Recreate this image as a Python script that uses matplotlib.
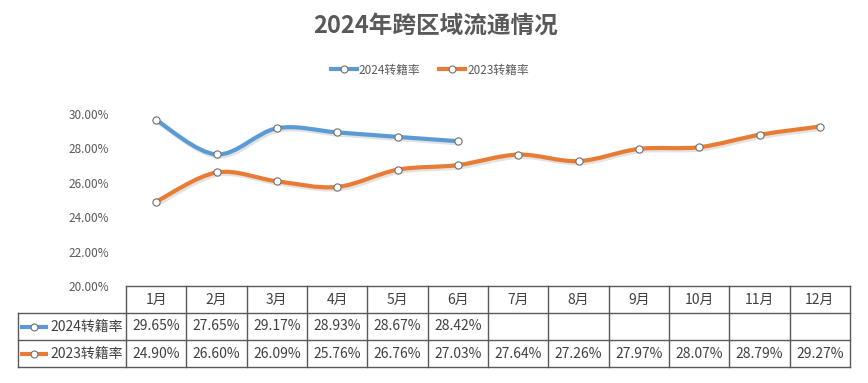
import matplotlib
matplotlib.use("Agg")
import matplotlib.pyplot as plt
from matplotlib.path import Path
from matplotlib.patches import PathPatch
from matplotlib.lines import Line2D
import matplotlib.patheffects as pe

plt.rcParams['font.family'] = ['Noto Sans CJK SC', 'DejaVu Sans']

title = "2024年跨区域流通情况"
months = ["1月", "2月", "3月", "4月", "5月", "6月", "7月", "8月", "9月", "10月", "11月", "12月"]
series_names = ["2024转籍率", "2023转籍率"]
rate_2024 = [29.65, 27.65, 29.17, 28.93, 28.67, 28.42]
rate_2023 = [24.90, 26.60, 26.09, 25.76, 26.76, 27.03, 27.64, 27.26, 27.97, 28.07, 28.79, 29.27]
y_ticks = [20, 22, 24, 26, 28, 30]
colors = ["#5B9BD5", "#E97C35"]
series = [rate_2024, rate_2023]

W, H = 868, 383
fig = plt.figure(figsize=(W / 100, H / 100), dpi=100)


def fx(px):
    return px / W


def fy(py):
    return 1 - py / H


TXT = "#595959"
GRID = "#595959"

ax = fig.add_axes([fx(126), fy(286), (850 - 126) / W, (286 - 114) / H])
ax.set_xlim(-0.5, len(months) - 0.5)
ax.set_ylim(y_ticks[0], y_ticks[-1])
for s in ax.spines.values():
    s.set_visible(False)
ax.set_xticks([])
ax.set_yticks(y_ticks)
ax.set_yticklabels([f"{v:.2f}%" for v in y_ticks], fontsize=8.5, color=TXT)
ax.tick_params(axis='y', length=0, pad=12)


def smooth_path(xs, ys):
    pts = list(zip(xs, ys))
    n = len(pts)
    verts = [pts[0]]
    codes = [Path.MOVETO]
    for i in range(n - 1):
        p0 = pts[max(i - 1, 0)]
        p1 = pts[i]
        p2 = pts[i + 1]
        p3 = pts[min(i + 2, n - 1)]
        c1 = (p1[0] + (p2[0] - p0[0]) / 6, p1[1] + (p2[1] - p0[1]) / 6)
        c2 = (p2[0] - (p3[0] - p1[0]) / 6, p2[1] - (p3[1] - p1[1]) / 6)
        verts += [c1, c2, p2]
        codes += [Path.CURVE4] * 3
    return Path(verts, codes)


for vals, col in zip(series, colors):
    xs = list(range(len(vals)))
    patch = PathPatch(smooth_path(xs, vals), fill=False, edgecolor=col, lw=3.0,
                      capstyle='round', joinstyle='round',
                      path_effects=[pe.SimpleLineShadow(offset=(1.2, -1.6), alpha=0.22, shadow_color='#808080'),
                                    pe.Normal()], zorder=2)
    ax.add_patch(patch)
    ax.plot(xs, vals, linestyle='none', marker='o', ms=5.2, mfc='white', mec='#6f6f6f', mew=0.8, zorder=3)

handles = [Line2D([0], [0], color=c, lw=3.0, marker='o', ms=5, mfc='white', mec='#6f6f6f', mew=0.8)
           for c in colors]
fig.legend(handles, series_names, loc='center', bbox_to_anchor=(fx(430), fy(70)), ncol=2,
           frameon=False, fontsize=8.5, handlelength=2.2, handletextpad=0.2, columnspacing=1.6,
           labelcolor=TXT)

fig.text(fx(436), fy(26), title, ha='center', va='center', fontsize=17, fontweight='bold', color=TXT)

# data table
unit_px = (850 - 126) / len(months)
x_left = -0.5 - (126 - 18) / unit_px
x_right = len(months) - 0.5
tax = fig.add_axes([fx(18), fy(367), (850 - 18) / W, (367 - 286) / H])
tax.set_xlim(x_left, x_right)
tax.set_ylim(3, 0)
tax.axis('off')

lk = dict(color=GRID, lw=1, clip_on=False, solid_capstyle='projecting')
tax.plot([-0.5, x_right], [0, 0], **lk)
for r in (1, 2, 3):
    tax.plot([x_left, x_right], [r, r], **lk)
for k in range(len(months) + 1):
    tax.plot([-0.5 + k, -0.5 + k], [0, 3], **lk)
tax.plot([x_left, x_left], [1, 3], **lk)

TBL = "#404040"
for i, m in enumerate(months):
    tax.text(i, 0.5, m, ha='center', va='center', fontsize=10, color=TBL)
for r, vals in enumerate(series):
    for i, v in enumerate(vals):
        tax.text(i, 1.5 + r, f"{v:.2f}%", ha='center', va='center', fontsize=10, color=TBL)

for r, (name, col) in enumerate(zip(series_names, colors)):
    yrow = 1.5 + r
    x0 = x_left + 2 / unit_px
    x1 = x_left + 30 / unit_px
    tax.plot([x0, x1], [yrow, yrow], color=col, lw=3.0, solid_capstyle='butt', clip_on=False)
    tax.plot([(x0 + x1) / 2], [yrow], marker='o', ms=5, mfc='white', mec='#6f6f6f', mew=0.8,
             clip_on=False)
    tax.text(x_left + 32 / unit_px, yrow, name, ha='left', va='center', fontsize=10, color=TBL)

fig.savefig("out.png", dpi=100, facecolor='white')
